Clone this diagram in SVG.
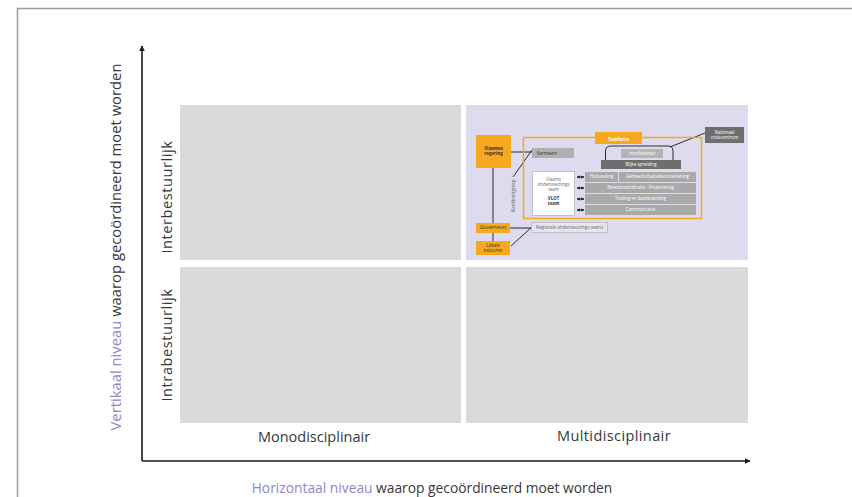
<svg xmlns="http://www.w3.org/2000/svg" width="852" height="497" viewBox="0 0 852 497">
  <style>
    .lbl { font-family: "Open Sans", "Liberation Sans", sans-serif; fill: #383838; }
    .axis { stroke: #1a1a1a; stroke-width: 1.6; fill: none; }
    .quad { fill: #d9d9d9; }
    .conn { stroke: #1a1a1a; stroke-width: 0.9; fill: none; }
    .orange { fill: #f6a81e; }
    .grey { fill: #a9a9a9; }
    .dark { fill: #6e6e6e; }
    .t { font-family: "Open Sans", "Liberation Sans", sans-serif; font-size: 4.4px; text-anchor: middle; }
    .tw { fill: #ffffff; }
    .tk { fill: #333333; }
    .tg { fill: #666666; }
    .purple { fill: #8c87c9; }
  </style>
  <defs>
    <marker id="arrow" viewBox="0 0 10 10" refX="9" refY="5" markerWidth="6" markerHeight="6" orient="auto" markerUnits="userSpaceOnUse">
      <path d="M0,0 L10,5 L0,10 z" fill="#1a1a1a"/>
    </marker>
    <marker id="tiny" viewBox="0 0 10 10" refX="9" refY="5" markerWidth="3.2" markerHeight="3.2" orient="auto-start-reverse" markerUnits="userSpaceOnUse">
      <path d="M0,0 L10,5 L0,10 z" fill="#1a1a1a"/>
    </marker>
  </defs>

  <rect width="852" height="497" fill="#ffffff"/>
  <!-- page frame -->
  <path d="M17.5,497 V8.5 H852" fill="none" stroke="#9a9a9a" stroke-width="1.5"/>

  <!-- quadrants -->
  <g id="quadrants">
    <rect id="q-mono-inter" class="quad" x="180" y="105" width="281" height="155"/>
    <rect id="q-multi-inter" x="466" y="105" width="282" height="155" fill="#dddbed"/>
    <rect id="q-mono-intra" class="quad" x="180" y="267" width="281" height="156"/>
    <rect id="q-multi-intra" class="quad" x="466" y="267" width="282" height="156"/>
  </g>

  <!-- axes -->
  <g id="axes">
    <path class="axis" d="M142,461 V46" marker-end="url(#arrow)"/>
    <path class="axis" d="M142,461 H750" marker-end="url(#arrow)"/>
  </g>

  <!-- axis and quadrant labels -->
  <g id="labels">
    <text class="lbl" x="314" y="442" font-size="14.5" text-anchor="middle">Monodisciplinair</text>
    <text class="lbl" x="614" y="441" font-size="14.5" text-anchor="middle" letter-spacing="0.4">Multidisciplinair</text>
    <text class="lbl" x="432" y="493" font-size="13.8" text-anchor="middle"><tspan class="purple">Horizontaal niveau</tspan> waarop gecoördineerd moet worden</text>
    <text class="lbl" transform="translate(121,247) rotate(-90)" font-size="14.8" text-anchor="middle"><tspan class="purple">Vertikaal niveau</tspan> waarop gecoördineerd moet worden</text>
    <text class="lbl" transform="translate(172,197) rotate(-90)" font-size="14.5" letter-spacing="0.6" text-anchor="middle">Interbestuurlijk</text>
    <text class="lbl" transform="translate(172,345) rotate(-90)" font-size="14.5" letter-spacing="0.6" text-anchor="middle">Intrabestuurlijk</text>
  </g>

  <!-- connectors of the coordination structure -->
  <g id="connectors">
    <path class="conn" d="M511,152 H532"/>
    <path class="conn" d="M532,150 L513,177"/>
    <path class="conn" d="M493,168 V242"/>
    <path class="conn" d="M510,228 H531"/>
    <path class="conn" d="M511,246 L533,226"/>
    <path class="conn" d="M705,133 L670,147"/>
    <path class="conn" d="M605.5,160 V151 Q605.5,146 611,146 H668 Q673,146 673,151 V160"/>
    <path class="conn" d="M577,177 H584" marker-start="url(#tiny)" marker-end="url(#tiny)"/>
    <path class="conn" d="M577,188 H584" marker-start="url(#tiny)" marker-end="url(#tiny)"/>
    <path class="conn" d="M577,199 H584" marker-start="url(#tiny)" marker-end="url(#tiny)"/>
    <path class="conn" d="M577,210 H584" marker-start="url(#tiny)" marker-end="url(#tiny)"/>
  </g>

  <!-- taskforce frame -->
  <g id="taskforce">
    <rect x="523.5" y="137.5" width="178" height="81" fill="none" stroke="#f6a81e" stroke-width="1.5"/>
    <rect class="orange" x="595" y="132" width="47" height="12"/>
    <text class="t tw" x="618.5" y="140.8" font-size="7" font-weight="bold">Taskforce</text>
  </g>

  <g id="vlaamse-regering">
    <rect class="orange" x="476" y="135" width="35" height="33"/>
    <text class="t tk" x="493.5" y="150" font-size="4" font-weight="bold">Vlaamse</text>
    <text class="t tk" x="493.5" y="155" font-size="4" font-weight="bold">regering</text>
  </g>

  <g id="kernteam">
    <rect x="532" y="148" width="42" height="10" fill="#b0b0b0"/>
    <text class="t tk" x="547" y="154.6">Kernteam</text>
  </g>

  <g id="klankbordgroep">
    <text class="t tg" transform="translate(514.5,196) rotate(-90)" font-size="4">Klankbordgroep</text>
  </g>

  <g id="nationaal-crisiscentrum">
    <rect class="dark" x="705" y="127" width="39" height="16"/>
    <text class="t tw" x="724.5" y="133.5">Nationaal</text>
    <text class="t tw" x="724.5" y="139">crisiscentrum</text>
  </g>

  <g id="interfederaal">
    <rect x="621" y="149" width="42" height="9" fill="#b3b3b3"/>
    <text class="t tw" x="642" y="155">Interfederaal</text>
  </g>

  <g id="blijke-spreiding">
    <rect class="dark" x="601" y="160" width="80" height="9"/>
    <text class="t tw" x="641" y="166">Blijke spreiding</text>
  </g>

  <g id="vlot-team">
    <rect x="532.5" y="171.5" width="42" height="44" fill="#ffffff" stroke="#b8b8b8" stroke-width="0.8"/>
    <text class="t tg" x="553.5" y="181">Vlaams</text>
    <text class="t tg" x="553.5" y="186">ondersteunings</text>
    <text class="t tg" x="553.5" y="191">team</text>
    <text class="t tk" x="553.5" y="200" font-weight="bold">VLOT</text>
    <text class="t tk" x="553.5" y="205" font-weight="bold">team</text>
  </g>

  <g id="huisvesting">
    <rect class="grey" x="585" y="172" width="33" height="10"/>
    <text class="t tw" x="601.5" y="178.3">Huisvesting</text>
  </g>

  <g id="gemeenschapsdienstverlening">
    <rect class="grey" x="619" y="172" width="77" height="10"/>
    <text class="t tw" x="657.5" y="178.3">Gemeenschapsdienstverlening</text>
  </g>

  <g id="beleidscoordinatie">
    <rect class="grey" x="585" y="183" width="111" height="10"/>
    <text class="t tw" x="640.5" y="189.3">Beleidscoördinatie - Financiering</text>
  </g>

  <g id="tooling">
    <rect class="grey" x="585" y="194" width="111" height="10"/>
    <text class="t tw" x="640.5" y="200.3">Tooling en dashboarding</text>
  </g>

  <g id="communicatie">
    <rect class="grey" x="585" y="205" width="111" height="10"/>
    <text class="t tw" x="640.5" y="211.3">Communicatie</text>
  </g>

  <g id="gouverneurs">
    <rect class="orange" x="476" y="223" width="34" height="10"/>
    <text class="t tk" x="493" y="229.3">Gouverneurs</text>
  </g>

  <g id="lokale-besturen">
    <rect class="orange" x="476" y="241" width="34" height="14"/>
    <text class="t tk" x="493" y="247">Lokale</text>
    <text class="t tk" x="493" y="252">besturen</text>
  </g>

  <g id="regionale-teams">
    <rect x="531.5" y="222.5" width="76" height="10" fill="#e6e5ef" stroke="#b8b8b8" stroke-width="0.8"/>
    <text class="t tg" x="569.5" y="229">Regionale ondersteunings teams</text>
  </g>
</svg>
